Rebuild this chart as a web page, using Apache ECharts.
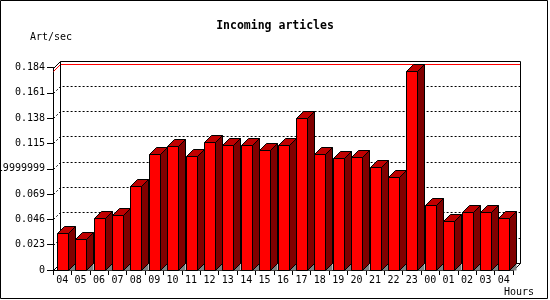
<!DOCTYPE html>
<html>
<head>
<meta charset="utf-8">
<script src="https://cdn.jsdelivr.net/npm/echarts@6/dist/echarts.min.js"></script>
<style>
  html, body { margin: 0; padding: 0; background: #fff; }
  #chart { width: 550px; height: 300px; }
</style>
</head>
<body>
<div id="chart"></div>
<script>
// hours of the day, oldest first
const hours = ['04', '05', '06', '07', '08', '09', '10', '11', '12', '13', '14', '15',
  '16', '17', '18', '19', '20', '21', '22', '23', '00', '01', '02', '03', '04']

// articles per second for each hour
const rates = [0.0332, 0.0278, 0.0468, 0.0504, 0.0767, 0.1057, 0.1123, 0.1039, 0.1159,
  0.1138, 0.1132, 0.1093, 0.1138, 0.1383, 0.1057, 0.1021, 0.1030, 0.0939, 0.0848,
  0.1808, 0.0595, 0.0444, 0.0525, 0.0525, 0.0468]

const yTickLabels = ['0', '0.023', '0.046', '0.069', '0.0919999999', '0.115', '0.138', '0.161', '0.184']
const yStep = 0.023
const yMax = 0.184

const DX = 7
const DY = 7
const FONT = 'DejaVu Sans Mono'

const px = v => Math.round(v) + 0.5

function line(x1, y1, x2, y2, style) {
  return {
    type: 'line',
    shape: {x1: px(x1), y1: px(y1), x2: px(x2), y2: px(y2)},
    style: Object.assign({stroke: '#000', lineWidth: 1}, style)
  }
}

function renderWalls(params, api) {
  const cs = params.coordSys
  const left = cs.x
  const right = cs.x + cs.width
  const top = cs.y
  const bottom = cs.y + cs.height
  let children = []

  // dotted grid lines on left wall + back wall
  for (let k = 1; k < yTickLabels.length - 1; k++) {
    const y = api.coord([0, k * yStep])[1]
    children.push({
      type: 'polyline',
      shape: {points: [[px(left), px(y)], [px(left + DX), px(y - DY)], [px(right + DX), px(y - DY)]]},
      style: {stroke: '#000', lineWidth: 1, lineDash: [2, 2], fill: null}
    })
  }

  // red line at the highest value
  const ym = api.coord([0, Math.max(...rates)])[1]
  children.push({
    type: 'polyline',
    shape: {points: [[px(left), px(ym)], [px(left + DX), px(ym - DY)], [px(right + DX), px(ym - DY)]]},
    style: {stroke: '#ff0000', lineWidth: 1, fill: null}
  })

  children.push(line(left + DX, top - DY, right + DX, top - DY))
  children.push(line(left + DX, top - DY, left + DX, bottom - DY))
  children.push(line(right + DX, top - DY, right + DX, bottom - DY))
  children.push(line(left + DX, bottom - DY, right + DX, bottom - DY))
  children.push(line(left, top, left + DX, top - DY))
  children.push(line(left, bottom, left + DX, bottom - DY))
  children.push(line(right, bottom, right + DX, bottom - DY))

  return {type: 'group', children}
}

function renderBar(params, api) {
  const c = api.coord([api.value(0), api.value(1)])
  const base = api.coord([api.value(0), 0])
  const x0 = Math.round(c[0] - 5.5) + 0.5
  const x1 = x0 + 11
  const yT = Math.round(c[1]) + 0.5
  const yB = Math.round(base[1]) + 0.5
  const outline = {stroke: '#000', lineWidth: 1}
  return {
    type: 'group',
    children: [
      {
        type: 'polygon',
        shape: {points: [[x1, yB], [x1 + DX, yB - DY], [x1 + DX, yB]]},
        style: {fill: '#808080'}
      },
      {
        type: 'polygon',
        shape: {points: [[x1, yT], [x1 + DX, yT - DY], [x1 + DX, yB - DY], [x1, yB]]},
        style: Object.assign({fill: '#800000'}, outline)
      },
      {
        type: 'polygon',
        shape: {points: [[x0, yT], [x0 + DX, yT - DY], [x1 + DX, yT - DY], [x1, yT]]},
        style: Object.assign({fill: '#c00000'}, outline)
      },
      {
        type: 'rect',
        shape: {x: x0, y: yT, width: x1 - x0, height: yB - yT},
        style: Object.assign({fill: '#ff0000'}, outline)
      }
    ]
  }
}

let myChart = echarts.init(document.getElementById('chart'))
let option = {
  backgroundColor: '#fff',
  animation: false,
  title: {
    text: 'Incoming articles',
    left: 'center',
    top: 20,
    padding: 0,
    textStyle: {fontFamily: FONT, fontWeight: 'bold', fontSize: 11.5, color: '#000'}
  },
  grid: {left: 53, right: 37, top: 67.5, bottom: 30, containLabel: false, outerBoundsMode: 'none'},
  xAxis: {
    type: 'category',
    data: hours,
    boundaryGap: true,
    axisLine: {lineStyle: {color: '#000', width: 1}},
    axisTick: {show: true, length: 5, lineStyle: {color: '#000'}},
    axisLabel: {
      interval: 0,
      margin: 5,
      color: '#000',
      fontFamily: FONT,
      fontSize: 10,
      formatter: (v, i) => hours[i]
    },
    splitLine: {show: false}
  },
  yAxis: {
    type: 'value',
    min: 0,
    max: yMax,
    interval: yStep,
    axisLine: {show: true, lineStyle: {color: '#000', width: 1}},
    axisTick: {show: true, length: 6, lineStyle: {color: '#000'}},
    axisLabel: {
      margin: 8,
      color: '#000',
      fontFamily: FONT,
      fontSize: 10,
      formatter: (v, i) => yTickLabels[i]
    },
    splitLine: {show: false}
  },
  graphic: [
    {
      type: 'rect',
      shape: {x: 0.5, y: 0.5, width: 547, height: 298},
      style: {fill: null, stroke: '#000', lineWidth: 1},
      silent: true
    },
    {
      type: 'text',
      style: {x: 30, y: 37, text: 'Art/sec', verticalAlign: 'middle', fill: '#000', font: '10px "DejaVu Sans Mono"'}
    },
    {
      type: 'text',
      style: {x: 534, y: 292, text: 'Hours', align: 'right', verticalAlign: 'middle', fill: '#000', font: '10px "DejaVu Sans Mono"'}
    }
  ],
  series: [
    {
      type: 'custom',
      clip: false,
      silent: true,
      renderItem: renderWalls,
      data: [[0, 0]],
      z: 1
    },
    {
      type: 'custom',
      clip: false,
      silent: true,
      renderItem: renderBar,
      encode: {x: 0, y: 1},
      data: rates.map((v, i) => [i, v]),
      z: 2
    }
  ]
}
myChart.setOption(option)
</script>
</body>
</html>
